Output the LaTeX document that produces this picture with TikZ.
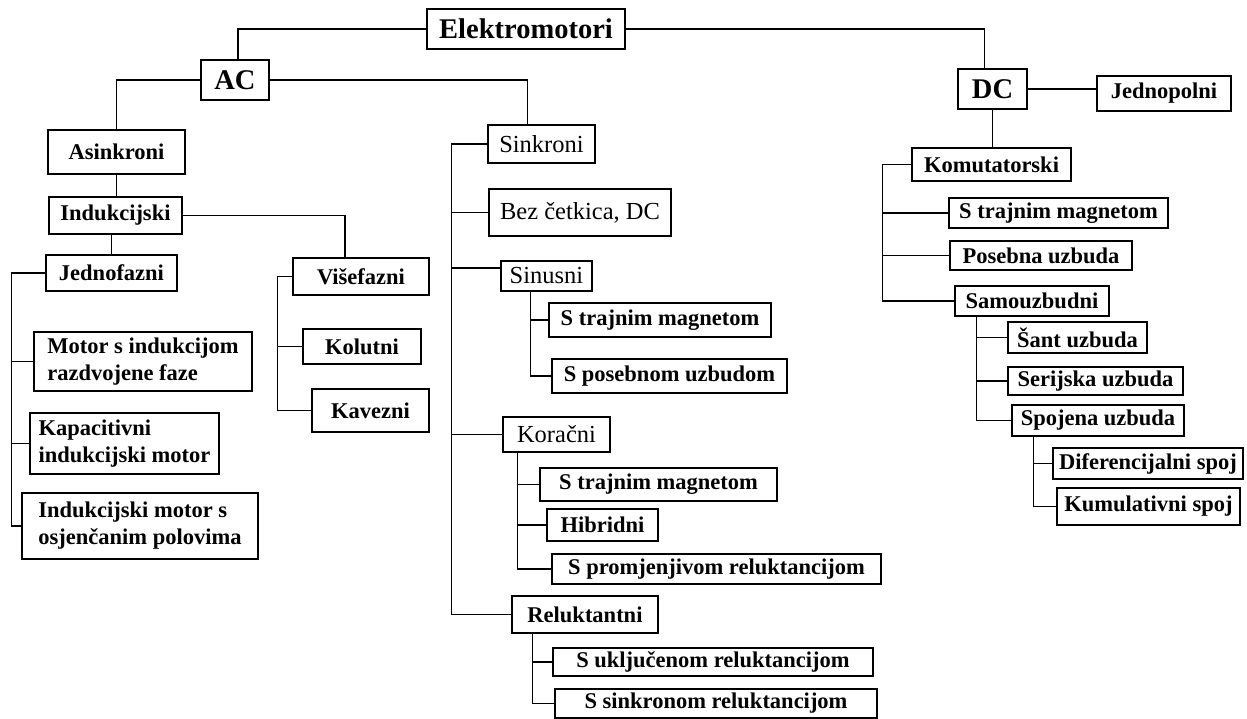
\documentclass[tikz,border=0pt]{standalone}
\usepackage{fontspec}
\setmainfont{Liberation Serif}
\usetikzlibrary{positioning,calc}

\begin{document}
\begin{tikzpicture}[
    x=1pt, y=-1pt,
    box/.style={rectangle, draw, line width=1.3pt, inner sep=2pt, align=left, font=\fontsize{22.5}{27}\selectfont\bfseries},
    head/.style={box, font=\fontsize{28.5}{31}\selectfont\bfseries},
    light/.style={box, font=\fontsize{24.5}{28}\selectfont},
    link/.style={line width=1.3pt}
]
    \useasboundingbox (0,0) rectangle (1247,719);

    % Top
    \node[head, minimum width=198, minimum height=40] (elektro) at (526,29) {Elektromotori};
    \node[head, minimum width=68, minimum height=40] (ac) at (235,80) {AC};
    \node[head, minimum width=69, minimum height=40] (dc) at (992.5,89) {DC};
    \node[box, minimum width=134, minimum height=35] (jednopolni) at (1164,93.5) {Jednopolni};

    % AC - asinkroni
    \node[box, minimum width=137, minimum height=44] (asinkroni) at (116.5,152) {Asinkroni};
    \node[box, minimum width=133, minimum height=37] (indukcijski) at (115.5,215.5) {Indukcijski};
    \node[box, minimum width=131, minimum height=36] (jednofazni) at (111.5,273) {Jednofazni};
    \node[box, minimum width=218, minimum height=59] (razdvojene) at (143,361.5) {Motor s indukcijom\\razdvojene faze};
    \node[box, minimum width=189, minimum height=61] (kapacitivni) at (124.5,443.5) {Kapacitivni\\indukcijski motor};
    \node[box, minimum width=236, minimum height=66] (osjencani) at (140,526) {Indukcijski motor s\\osjenčanim polovima};
    \node[box, minimum width=136, minimum height=37] (visefazni) at (361,276.5) {Višefazni};
    \node[box, minimum width=118, minimum height=35] (kolutni) at (362,346.5) {Kolutni};
    \node[box, minimum width=117, minimum height=43] (kavezni) at (370.5,410.5) {Kavezni};

    % AC - sinkroni
    \node[light, minimum width=107, minimum height=38] (sinkroni) at (541.5,144) {Sinkroni};
    \node[light, minimum width=182, minimum height=47] (bezcetkica) at (580,212.5) {Bez četkica, DC};
    \node[light, minimum width=91, minimum height=30] (sinusni) at (546.5,276) {Sinusni};
    \node[box, minimum width=222, minimum height=34] (sintrajni) at (660,320) {S trajnim magnetom};
    \node[box, minimum width=235, minimum height=34] (sinposebni) at (669.5,376) {S posebnom uzbudom};
    \node[light, minimum width=107, minimum height=35] (koracni) at (556.5,434.5) {Koračni};
    \node[box, minimum width=237, minimum height=33] (kortrajni) at (658.5,484.5) {S trajnim magnetom};
    \node[box, minimum width=111, minimum height=32] (hibridni) at (602.5,525) {Hibridni};
    \node[box, minimum width=329, minimum height=30] (promjenjivi) at (716.5,569) {S promjenjivom reluktancijom};
    \node[box, minimum width=146, minimum height=37] (reluktantni) at (585,614.5) {Reluktantni};
    \node[box, minimum width=320, minimum height=28] (ukljuceni) at (713,662) {S uključenom reluktancijom};
    \node[box, minimum width=322, minimum height=29] (sinkronrel) at (716,703.5) {S sinkronom reluktancijom};

    % DC
    \node[box, minimum width=159, minimum height=33] (komutatorski) at (991.5,164.5) {Komutatorski};
    \node[box, minimum width=219, minimum height=30] (dctrajni) at (1058.5,213) {S trajnim magnetom};
    \node[box, minimum width=182, minimum height=29] (posebna) at (1041,255.5) {Posebna uzbuda};
    \node[box, minimum width=154, minimum height=30] (samouzbudni) at (1032,301) {Samouzbudni};
    \node[box, minimum width=139, minimum height=31] (sant) at (1077.5,337.5) {Šant uzbuda};
    \node[box, minimum width=175, minimum height=28] (serijska) at (1095.5,381) {Serijska uzbuda};
    \node[box, minimum width=172, minimum height=31] (spojena) at (1098,420.5) {Spojena uzbuda};
    \node[box, minimum width=190, minimum height=31] (diferencijalni) at (1148,463.5) {Diferencijalni spoj};
    \node[box, minimum width=183, minimum height=37] (kumulativni) at (1148.5,506.5) {Kumulativni spoj};

    % Lines
    \draw[link] (elektro.west) -| ([xshift=3]ac.north);
    \draw[link] (elektro.east) -| ([xshift=-8]dc.north);
    \draw[link] (ac.west) -| (asinkroni.north);
    \draw[link] (ac.east) -| ([xshift=-14]sinkroni.north);
    \draw[link] (dc.east) -- (dc.east -| jednopolni.west);
    \draw[link] (asinkroni.south) -- (asinkroni.south |- indukcijski.north);
    \draw[link] (indukcijski.south -| jednofazni.north) -- (jednofazni.north);
    \draw[link] (indukcijski.east) -| ([xshift=-16]visefazni.north);
    \foreach \c in {razdvojene,kapacitivni,osjencani}
        \draw[link] (jednofazni.west) -- ++(-34,0) |- (\c.west);
    \foreach \c in {kolutni,kavezni}
        \draw[link] (visefazni.west) -- ++(-15,0) |- (\c.west);
    \foreach \c in {bezcetkica,koracni,reluktantni}
        \draw[link] (sinkroni.west) -- ++(-36,0) |- (\c.west);
    \draw[link] (sinkroni.west) -- ++(-36,0) |- ([yshift=8]sinusni.west);
    \foreach \c in {sintrajni,sinposebni}
        \draw[link] ([xshift=30]sinusni.south west) |- (\c.west);
    \foreach \c in {kortrajni,hibridni,promjenjivi}
        \draw[link] ([xshift=15]koracni.south west) |- (\c.west);
    \foreach \c in {ukljuceni,sinkronrel}
        \draw[link] ([xshift=21]reluktantni.south west) |- (\c.west);
    \draw[link] (dc.south) -- (dc.south |- komutatorski.north);
    \foreach \c in {dctrajni,posebna,samouzbudni}
        \draw[link] (komutatorski.west) -- ++(-29,0) |- (\c.west);
    \foreach \c in {sant,serijska,spojena}
        \draw[link] ([xshift=22]samouzbudni.south west) |- (\c.west);
    \foreach \c in {diferencijalni,kumulativni}
        \draw[link] ([xshift=22]spojena.south west) |- (\c.west);
\end{tikzpicture}
\end{document}
